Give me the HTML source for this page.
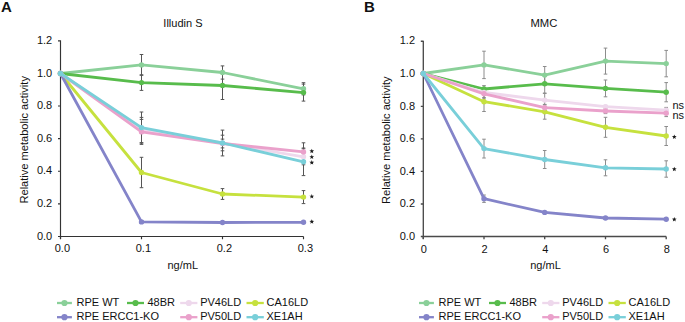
<!DOCTYPE html>
<html><head><meta charset="utf-8"><style>
html,body{margin:0;padding:0;background:#fff;}
body{width:685px;height:322px;overflow:hidden;position:relative;}
svg{position:absolute;left:0;top:0;}
text{font-family:"Liberation Sans",sans-serif;fill:#111;}
</style></head><body>
<svg width="685" height="322" viewBox="0 0 685 322">
<text x="0.9" y="11.9" font-size="15" font-weight="bold">A</text>
<text x="182.9" y="27.4" font-size="11" text-anchor="middle">Illudin S</text>
<text x="52.2" y="44" font-size="11" text-anchor="end">1.2</text>
<text x="52.2" y="76.62" font-size="11" text-anchor="end">1.0</text>
<text x="52.2" y="109.23" font-size="11" text-anchor="end">0.8</text>
<text x="52.2" y="141.85" font-size="11" text-anchor="end">0.6</text>
<text x="52.2" y="174.47" font-size="11" text-anchor="end">0.4</text>
<text x="52.2" y="207.08" font-size="11" text-anchor="end">0.2</text>
<text x="52.2" y="239.7" font-size="11" text-anchor="end">0.0</text>
<text x="62.4" y="252.4" font-size="11" text-anchor="middle">0.0</text>
<text x="143.4" y="252.4" font-size="11" text-anchor="middle">0.1</text>
<text x="224.4" y="252.4" font-size="11" text-anchor="middle">0.2</text>
<text x="305.4" y="252.4" font-size="11" text-anchor="middle">0.3</text>
<text x="182.8" y="269.4" font-size="11" text-anchor="middle">ng/mL</text>
<text transform="translate(27.9,139.8) rotate(-90)" font-size="11.08" text-anchor="middle">Relative metabolic activity</text>
<path d="M60.5 40.3V239M58 40.8H60.5M58 73.42H60.5M58 106.03H60.5M58 138.65H60.5M58 171.27H60.5M58 203.88H60.5M58 236.5H60.5" stroke="#333" stroke-width="1.15" fill="none"/>
<path d="M60.5 236.5H303.5M60.5 236.5V239.2M141.5 236.5V239.2M222.5 236.5V239.2M303.5 236.5V239.2" stroke="#333" stroke-width="1.15" fill="none"/>
<path d="M141.5 54.5V75.3M139.7 54.5h3.6M139.7 75.3h3.6M222.5 65.9V79.1M220.7 65.9h3.6M220.7 79.1h3.6M303.5 82.7V94.9M301.7 82.7h3.6M301.7 94.9h3.6M141.5 74.8V90.4M139.7 74.8h3.6M139.7 90.4h3.6M222.5 71.5V99.5M220.7 71.5h3.6M220.7 99.5h3.6M303.5 84.1V101.1M301.7 84.1h3.6M301.7 101.1h3.6M141.5 117.4V142.6M139.7 117.4h3.6M139.7 142.6h3.6M222.5 135.2V150.8M220.7 135.2h3.6M220.7 150.8h3.6M303.5 148.8V164.8M301.7 148.8h3.6M301.7 164.8h3.6M141.5 157.3V187.7M139.7 157.3h3.6M139.7 187.7h3.6M222.5 188.6V199.4M220.7 188.6h3.6M220.7 199.4h3.6M303.5 190.6V203.6M301.7 190.6h3.6M301.7 203.6h3.6M141.5 220.9V222.9M139.7 220.9h3.6M139.7 222.9h3.6M222.5 221.5V223.5M220.7 221.5h3.6M220.7 223.5h3.6M303.5 221.3V223.3M301.7 221.3h3.6M301.7 223.3h3.6M141.5 119.4V144.4M139.7 119.4h3.6M139.7 144.4h3.6M222.5 139.1V147.9M220.7 139.1h3.6M220.7 147.9h3.6M303.5 142.8V161M301.7 142.8h3.6M301.7 161h3.6M141.5 112V143.2M139.7 112h3.6M139.7 143.2h3.6M222.5 130.1V155.9M220.7 130.1h3.6M220.7 155.9h3.6M303.5 148V175.6M301.7 148h3.6M301.7 175.6h3.6" stroke="#555555" stroke-width="1" fill="none"/>
<polyline points="60.5,73.5 141.5,64.9 222.5,72.5 303.5,88.8" stroke="#8ad099" stroke-width="2.8" fill="none" stroke-linejoin="round"/>
<circle cx="60.5" cy="73.5" r="2.7" fill="#8ad099"/>
<circle cx="141.5" cy="64.9" r="2.7" fill="#8ad099"/>
<circle cx="222.5" cy="72.5" r="2.7" fill="#8ad099"/>
<circle cx="303.5" cy="88.8" r="2.7" fill="#8ad099"/>
<polyline points="60.5,73.5 141.5,82.6 222.5,85.5 303.5,92.6" stroke="#58bc4c" stroke-width="2.8" fill="none" stroke-linejoin="round"/>
<circle cx="60.5" cy="73.5" r="2.7" fill="#58bc4c"/>
<circle cx="141.5" cy="82.6" r="2.7" fill="#58bc4c"/>
<circle cx="222.5" cy="85.5" r="2.7" fill="#58bc4c"/>
<circle cx="303.5" cy="92.6" r="2.7" fill="#58bc4c"/>
<polyline points="60.5,73.5 141.5,130 222.5,143 303.5,156.8" stroke="#eed8ec" stroke-width="2.8" fill="none" stroke-linejoin="round"/>
<circle cx="60.5" cy="73.5" r="2.7" fill="#eed8ec"/>
<circle cx="141.5" cy="130" r="2.7" fill="#eed8ec"/>
<circle cx="222.5" cy="143" r="2.7" fill="#eed8ec"/>
<circle cx="303.5" cy="156.8" r="2.7" fill="#eed8ec"/>
<polyline points="60.5,73.5 141.5,172.5 222.5,194 303.5,197.1" stroke="#c6e13e" stroke-width="2.8" fill="none" stroke-linejoin="round"/>
<circle cx="60.5" cy="73.5" r="2.7" fill="#c6e13e"/>
<circle cx="141.5" cy="172.5" r="2.7" fill="#c6e13e"/>
<circle cx="222.5" cy="194" r="2.7" fill="#c6e13e"/>
<circle cx="303.5" cy="197.1" r="2.7" fill="#c6e13e"/>
<polyline points="60.5,73.5 141.5,221.9 222.5,222.5 303.5,222.3" stroke="#8484c9" stroke-width="2.8" fill="none" stroke-linejoin="round"/>
<circle cx="60.5" cy="73.5" r="2.7" fill="#8484c9"/>
<circle cx="141.5" cy="221.9" r="2.7" fill="#8484c9"/>
<circle cx="222.5" cy="222.5" r="2.7" fill="#8484c9"/>
<circle cx="303.5" cy="222.3" r="2.7" fill="#8484c9"/>
<polyline points="60.5,73.5 141.5,131.9 222.5,143.5 303.5,151.9" stroke="#eaa1cb" stroke-width="2.8" fill="none" stroke-linejoin="round"/>
<circle cx="60.5" cy="73.5" r="2.7" fill="#eaa1cb"/>
<circle cx="141.5" cy="131.9" r="2.7" fill="#eaa1cb"/>
<circle cx="222.5" cy="143.5" r="2.7" fill="#eaa1cb"/>
<circle cx="303.5" cy="151.9" r="2.7" fill="#eaa1cb"/>
<polyline points="60.5,73.5 141.5,127.6 222.5,143 303.5,161.8" stroke="#79cfd9" stroke-width="2.8" fill="none" stroke-linejoin="round"/>
<circle cx="60.5" cy="73.5" r="2.7" fill="#79cfd9"/>
<circle cx="141.5" cy="127.6" r="2.7" fill="#79cfd9"/>
<circle cx="222.5" cy="143" r="2.7" fill="#79cfd9"/>
<circle cx="303.5" cy="161.8" r="2.7" fill="#79cfd9"/>
<polygon points="311.8,148.7 312.42,150.35 314.18,150.43 312.8,151.52 313.27,153.22 311.8,152.25 310.33,153.22 310.8,151.52 309.42,150.43 311.18,150.35" fill="#1a1a1a"/>
<polygon points="311.8,154.5 312.42,156.15 314.18,156.23 312.8,157.32 313.27,159.02 311.8,158.05 310.33,159.02 310.8,157.32 309.42,156.23 311.18,156.15" fill="#1a1a1a"/>
<polygon points="311.8,160.1 312.42,161.75 314.18,161.83 312.8,162.92 313.27,164.62 311.8,163.65 310.33,164.62 310.8,162.92 309.42,161.83 311.18,161.75" fill="#1a1a1a"/>
<polygon points="311.8,194 312.42,195.65 314.18,195.73 312.8,196.82 313.27,198.52 311.8,197.55 310.33,198.52 310.8,196.82 309.42,195.73 311.18,195.65" fill="#1a1a1a"/>
<polygon points="311.8,219.2 312.42,220.85 314.18,220.93 312.8,222.02 313.27,223.72 311.8,222.75 310.33,223.72 310.8,222.02 309.42,220.93 311.18,220.85" fill="#1a1a1a"/>
<path d="M57 303h14.9" stroke="#8ad099" stroke-width="2.3"/>
<circle cx="64.45" cy="303" r="3.1" fill="#8ad099"/>
<text x="76.5" y="306" font-size="11">RPE WT</text>
<path d="M127 303h17" stroke="#58bc4c" stroke-width="2.3"/>
<circle cx="135.5" cy="303" r="3.1" fill="#58bc4c"/>
<text x="147.4" y="306" font-size="11">48BR</text>
<path d="M180.2 303h17.2" stroke="#eed8ec" stroke-width="2.3"/>
<circle cx="188.8" cy="303" r="3.1" fill="#eed8ec"/>
<text x="200.2" y="306" font-size="11">PV46LD</text>
<path d="M246.5 303h17.3" stroke="#c6e13e" stroke-width="2.3"/>
<circle cx="255.15" cy="303" r="3.1" fill="#c6e13e"/>
<text x="266.5" y="306" font-size="11">CA16LD</text>
<path d="M57 317.2h14.9" stroke="#8484c9" stroke-width="2.3"/>
<circle cx="64.45" cy="317.2" r="3.1" fill="#8484c9"/>
<text x="76.5" y="320.2" font-size="11">RPE ERCC1-KO</text>
<path d="M180.2 317.2h17.2" stroke="#eaa1cb" stroke-width="2.3"/>
<circle cx="188.8" cy="317.2" r="3.1" fill="#eaa1cb"/>
<text x="200.2" y="320.2" font-size="11">PV50LD</text>
<path d="M246.5 317.2h17.3" stroke="#79cfd9" stroke-width="2.3"/>
<circle cx="255.15" cy="317.2" r="3.1" fill="#79cfd9"/>
<text x="266.5" y="320.2" font-size="11">XE1AH</text>
<text x="364.1" y="11.9" font-size="15" font-weight="bold">B</text>
<text x="543.9" y="27.3" font-size="11.25" text-anchor="middle">MMC</text>
<text x="415" y="44.4" font-size="11" text-anchor="end">1.2</text>
<text x="415" y="76.95" font-size="11" text-anchor="end">1.0</text>
<text x="415" y="109.5" font-size="11" text-anchor="end">0.8</text>
<text x="415" y="142.05" font-size="11" text-anchor="end">0.6</text>
<text x="415" y="174.6" font-size="11" text-anchor="end">0.4</text>
<text x="415" y="207.15" font-size="11" text-anchor="end">0.2</text>
<text x="415" y="239.7" font-size="11" text-anchor="end">0.0</text>
<text x="423.9" y="252.7" font-size="11" text-anchor="middle">0</text>
<text x="484.6" y="252.7" font-size="11" text-anchor="middle">2</text>
<text x="545.3" y="252.7" font-size="11" text-anchor="middle">4</text>
<text x="606.1" y="252.7" font-size="11" text-anchor="middle">6</text>
<text x="666.8" y="252.7" font-size="11" text-anchor="middle">8</text>
<text x="545.55" y="269.4" font-size="11" text-anchor="middle">ng/mL</text>
<text transform="translate(390.1,140.2) rotate(-90)" font-size="11.08" text-anchor="middle">Relative metabolic activity</text>
<path d="M423.3 40.7V239M420.8 41.2H423.3M420.8 73.75H423.3M420.8 106.3H423.3M420.8 138.85H423.3M420.8 171.4H423.3M420.8 203.95H423.3M420.8 236.5H423.3" stroke="#4a4a4a" stroke-width="1.35" fill="none"/>
<path d="M423.3 236.5H666.2M423.3 236.5V239.2M484 236.5V239.2M544.7 236.5V239.2M605.5 236.5V239.2M666.2 236.5V239.2" stroke="#4a4a4a" stroke-width="1.35" fill="none"/>
<path d="M484 51.2V78.6M482.2 51.2h3.6M482.2 78.6h3.6M544.7 66.5V83.7M542.9 66.5h3.6M542.9 83.7h3.6M605.5 48.1V74.1M603.7 48.1h3.6M603.7 74.1h3.6M666.2 50.4V76.8M664.4 50.4h3.6M664.4 76.8h3.6M484 85.6V92.4M482.2 85.6h3.6M482.2 92.4h3.6M544.7 74.2V93.4M542.9 74.2h3.6M542.9 93.4h3.6M605.5 80V96.8M603.7 80h3.6M603.7 96.8h3.6M666.2 82.6V101.8M664.4 82.6h3.6M664.4 101.8h3.6M484 87.5V97.5M482.2 87.5h3.6M482.2 97.5h3.6M544.7 93.1V107.1M542.9 93.1h3.6M542.9 107.1h3.6M605.5 105.4V107.8M603.7 105.4h3.6M603.7 107.8h3.6M666.2 107.4V113M664.4 107.4h3.6M664.4 113h3.6M484 91.9V111.5M482.2 91.9h3.6M482.2 111.5h3.6M544.7 104.4V119.2M542.9 104.4h3.6M542.9 119.2h3.6M605.5 117.3V137.3M603.7 117.3h3.6M603.7 137.3h3.6M666.2 126.5V145.5M664.4 126.5h3.6M664.4 145.5h3.6M484 195V202.4M482.2 195h3.6M482.2 202.4h3.6M544.7 211.4V213.4M542.9 211.4h3.6M542.9 213.4h3.6M605.5 217V219M603.7 217h3.6M603.7 219h3.6M666.2 218.2V220.2M664.4 218.2h3.6M664.4 220.2h3.6M484 88.8V98.8M482.2 88.8h3.6M482.2 98.8h3.6M544.7 104.9V110.5M542.9 104.9h3.6M542.9 110.5h3.6M605.5 108.4V113.6M603.7 108.4h3.6M603.7 113.6h3.6M666.2 109.8V116.6M664.4 109.8h3.6M664.4 116.6h3.6M484 139.2V158M482.2 139.2h3.6M482.2 158h3.6M544.7 150.5V168.5M542.9 150.5h3.6M542.9 168.5h3.6M605.5 159.8V175.8M603.7 159.8h3.6M603.7 175.8h3.6M666.2 160.8V177.2M664.4 160.8h3.6M664.4 177.2h3.6" stroke="#8c8c8c" stroke-width="1" fill="none"/>
<polyline points="423.3,73.5 484,64.9 544.7,75.1 605.5,61.1 666.2,63.6" stroke="#8ad099" stroke-width="2.8" fill="none" stroke-linejoin="round"/>
<circle cx="423.3" cy="73.5" r="2.7" fill="#8ad099"/>
<circle cx="484" cy="64.9" r="2.7" fill="#8ad099"/>
<circle cx="544.7" cy="75.1" r="2.7" fill="#8ad099"/>
<circle cx="605.5" cy="61.1" r="2.7" fill="#8ad099"/>
<circle cx="666.2" cy="63.6" r="2.7" fill="#8ad099"/>
<polyline points="423.3,73.5 484,89 544.7,83.8 605.5,88.4 666.2,92.2" stroke="#58bc4c" stroke-width="2.8" fill="none" stroke-linejoin="round"/>
<circle cx="423.3" cy="73.5" r="2.7" fill="#58bc4c"/>
<circle cx="484" cy="89" r="2.7" fill="#58bc4c"/>
<circle cx="544.7" cy="83.8" r="2.7" fill="#58bc4c"/>
<circle cx="605.5" cy="88.4" r="2.7" fill="#58bc4c"/>
<circle cx="666.2" cy="92.2" r="2.7" fill="#58bc4c"/>
<polyline points="423.3,73.5 484,92.5 544.7,100.1 605.5,106.6 666.2,110.2" stroke="#eed8ec" stroke-width="2.8" fill="none" stroke-linejoin="round"/>
<circle cx="423.3" cy="73.5" r="2.7" fill="#eed8ec"/>
<circle cx="484" cy="92.5" r="2.7" fill="#eed8ec"/>
<circle cx="544.7" cy="100.1" r="2.7" fill="#eed8ec"/>
<circle cx="605.5" cy="106.6" r="2.7" fill="#eed8ec"/>
<circle cx="666.2" cy="110.2" r="2.7" fill="#eed8ec"/>
<polyline points="423.3,73.5 484,101.7 544.7,111.8 605.5,127.3 666.2,136" stroke="#c6e13e" stroke-width="2.8" fill="none" stroke-linejoin="round"/>
<circle cx="423.3" cy="73.5" r="2.7" fill="#c6e13e"/>
<circle cx="484" cy="101.7" r="2.7" fill="#c6e13e"/>
<circle cx="544.7" cy="111.8" r="2.7" fill="#c6e13e"/>
<circle cx="605.5" cy="127.3" r="2.7" fill="#c6e13e"/>
<circle cx="666.2" cy="136" r="2.7" fill="#c6e13e"/>
<polyline points="423.3,73.5 484,198.7 544.7,212.4 605.5,218 666.2,219.2" stroke="#8484c9" stroke-width="2.8" fill="none" stroke-linejoin="round"/>
<circle cx="423.3" cy="73.5" r="2.7" fill="#8484c9"/>
<circle cx="484" cy="198.7" r="2.7" fill="#8484c9"/>
<circle cx="544.7" cy="212.4" r="2.7" fill="#8484c9"/>
<circle cx="605.5" cy="218" r="2.7" fill="#8484c9"/>
<circle cx="666.2" cy="219.2" r="2.7" fill="#8484c9"/>
<polyline points="423.3,73.5 484,93.8 544.7,107.7 605.5,111 666.2,113.2" stroke="#eaa1cb" stroke-width="2.8" fill="none" stroke-linejoin="round"/>
<circle cx="423.3" cy="73.5" r="2.7" fill="#eaa1cb"/>
<circle cx="484" cy="93.8" r="2.7" fill="#eaa1cb"/>
<circle cx="544.7" cy="107.7" r="2.7" fill="#eaa1cb"/>
<circle cx="605.5" cy="111" r="2.7" fill="#eaa1cb"/>
<circle cx="666.2" cy="113.2" r="2.7" fill="#eaa1cb"/>
<polyline points="423.3,73.5 484,148.6 544.7,159.5 605.5,167.8 666.2,169" stroke="#79cfd9" stroke-width="2.8" fill="none" stroke-linejoin="round"/>
<circle cx="423.3" cy="73.5" r="2.7" fill="#79cfd9"/>
<circle cx="484" cy="148.6" r="2.7" fill="#79cfd9"/>
<circle cx="544.7" cy="159.5" r="2.7" fill="#79cfd9"/>
<circle cx="605.5" cy="167.8" r="2.7" fill="#79cfd9"/>
<circle cx="666.2" cy="169" r="2.7" fill="#79cfd9"/>
<text x="672.4" y="109.2" font-size="11">ns</text>
<text x="672.4" y="118.7" font-size="11">ns</text>
<polygon points="674.3,134.4 674.92,136.05 676.68,136.13 675.3,137.22 675.77,138.92 674.3,137.95 672.83,138.92 673.3,137.22 671.92,136.13 673.68,136.05" fill="#1a1a1a"/>
<polygon points="674.3,166.7 674.92,168.35 676.68,168.43 675.3,169.52 675.77,171.22 674.3,170.25 672.83,171.22 673.3,169.52 671.92,168.43 673.68,168.35" fill="#1a1a1a"/>
<polygon points="674.3,216.9 674.92,218.55 676.68,218.63 675.3,219.72 675.77,221.42 674.3,220.45 672.83,221.42 673.3,219.72 671.92,218.63 673.68,218.55" fill="#1a1a1a"/>
<path d="M419 303h14.9" stroke="#8ad099" stroke-width="2.3"/>
<circle cx="426.45" cy="303" r="3.1" fill="#8ad099"/>
<text x="438.5" y="306" font-size="11">RPE WT</text>
<path d="M489 303h17" stroke="#58bc4c" stroke-width="2.3"/>
<circle cx="497.5" cy="303" r="3.1" fill="#58bc4c"/>
<text x="509.4" y="306" font-size="11">48BR</text>
<path d="M542.2 303h17.2" stroke="#eed8ec" stroke-width="2.3"/>
<circle cx="550.8" cy="303" r="3.1" fill="#eed8ec"/>
<text x="562.2" y="306" font-size="11">PV46LD</text>
<path d="M608.5 303h17.3" stroke="#c6e13e" stroke-width="2.3"/>
<circle cx="617.15" cy="303" r="3.1" fill="#c6e13e"/>
<text x="628.5" y="306" font-size="11">CA16LD</text>
<path d="M419 317.2h14.9" stroke="#8484c9" stroke-width="2.3"/>
<circle cx="426.45" cy="317.2" r="3.1" fill="#8484c9"/>
<text x="438.5" y="320.2" font-size="11">RPE ERCC1-KO</text>
<path d="M542.2 317.2h17.2" stroke="#eaa1cb" stroke-width="2.3"/>
<circle cx="550.8" cy="317.2" r="3.1" fill="#eaa1cb"/>
<text x="562.2" y="320.2" font-size="11">PV50LD</text>
<path d="M608.5 317.2h17.3" stroke="#79cfd9" stroke-width="2.3"/>
<circle cx="617.15" cy="317.2" r="3.1" fill="#79cfd9"/>
<text x="628.5" y="320.2" font-size="11">XE1AH</text>
</svg>
</body></html>
